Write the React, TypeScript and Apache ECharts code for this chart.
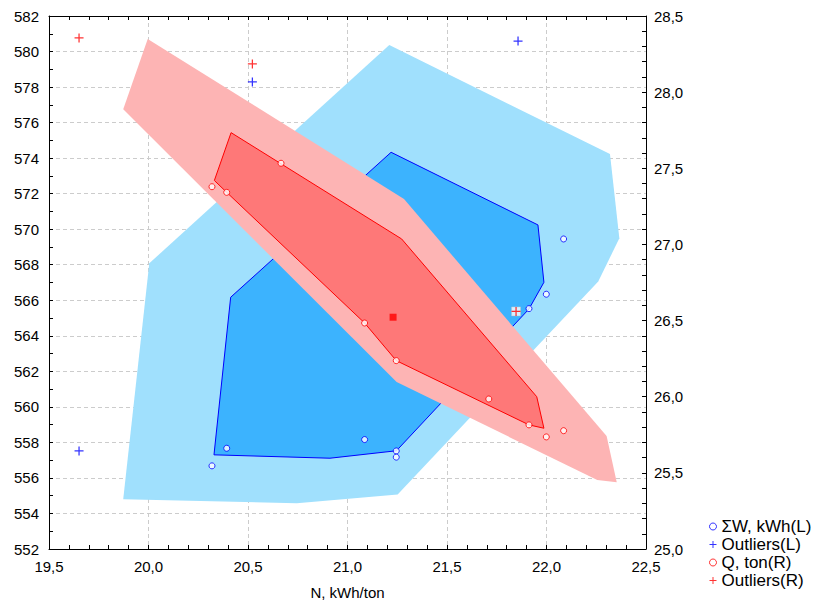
import React, { useEffect, useRef } from "react";
import * as echarts from "echarts";

// Axis ranges
const xMin = 19.5;
const xMax = 22.5;
const leftMin = 552;
const leftMax = 582;
const rightMin = 25.0;
const rightMax = 28.5;

// ΣW, kWh (left axis): points inside the fence
const wX = [20.393, 20.319, 21.086, 21.245, 21.245, 21.912, 21.999, 22.086];
const wY = [557.67, 556.68, 558.16, 557.52, 557.17, 565.53, 566.34, 569.45];
// ΣW outliers
const wOutX = [19.651, 20.522, 21.857];
const wOutY = [557.52, 578.29, 580.59];
// ΣW fence (outer) and bag (inner) hulls
const wFenceX = [21.21, 22.319, 22.366, 22.26, 21.252, 20.745, 19.873, 20.004];
const wFenceY = [580.37, 574.23, 569.49, 567.05, 555.07, 554.58, 554.8, 568.08];
const wBagX = [20.329, 20.413, 21.219, 21.957, 21.987, 21.912, 21.246, 20.912];
const wBagY = [557.3, 566.17, 574.33, 570.24, 567.01, 565.51, 557.53, 557.11];

// Q, ton (right axis): points inside the fence
const qX = [20.319, 20.393, 20.666, 21.086, 21.245, 21.71, 21.912, 21.999, 22.086];
const qY = [27.379, 27.342, 27.533, 26.484, 26.237, 25.985, 25.815, 25.736, 25.777];
// Q outliers
const qOutX = [19.651, 20.522, 21.847];
const qOutY = [28.356, 28.185, 26.56];
// Q depth median
const qMedX = [21.229];
const qMedY = [26.522];
// Q fence (outer) and bag (inner) hulls
const qFenceX = [19.996, 21.284, 22.302, 22.353, 22.255, 21.247, 19.873];
const qFenceY = [28.349, 27.298, 25.742, 25.438, 25.453, 26.097, 27.887];
const qBagX = [20.415, 20.331, 20.393, 21.086, 21.245, 21.912, 21.987, 21.951, 21.272];
const qBagY = [27.734, 27.42, 27.342, 26.484, 26.237, 25.815, 25.793, 26.0, 27.036];

const FONT = "Liberation Sans, Arial, sans-serif";
const PLUS = "path://M4.3,0H5.7V4.3H10V5.7H5.7V10H4.3V5.7H0V4.3H4.3Z";

const zip = (xs: number[], ys: number[]) => xs.map((x, i) => [x, ys[i]]);

function hull(
  xs: number[],
  ys: number[],
  yAxisIndex: number,
  fill: string,
  stroke: string | null,
  z: number
) {
  const pts = zip(xs, ys);
  return {
    type: "custom",
    xAxisIndex: 0,
    yAxisIndex,
    z,
    silent: true,
    clip: true,
    data: pts,
    encode: { x: 0, y: 1 },
    renderItem: (params: any, api: any) => {
      if (params.dataIndex !== 0) return null;
      return {
        type: "polygon",
        shape: { points: pts.map((p) => api.coord(p)) },
        style: {
          fill,
          stroke: stroke || "none",
          lineWidth: stroke ? 1 : 0,
        },
      };
    },
  };
}

export default function App() {
  const ref = useRef<HTMLDivElement>(null);

  useEffect(() => {
    document.body.style.margin = "0";
    const chart = echarts.init(ref.current!, null, { renderer: "svg" });

    const tick = { show: true, inside: true, length: 4, lineStyle: { color: "#000" } };
    const line = { show: true, lineStyle: { color: "#000", width: 1 } };
    const grid = {
      show: true,
      lineStyle: { color: "#cccccc", type: [4, 3], width: 1 },
    };
    const label = { color: "#000", fontSize: 15, fontFamily: FONT };
    const comma = (v: number) => v.toFixed(1).replace(".", ",");

    const option: any = {
      animation: false,
      backgroundColor: "#fff",
      grid: { left: 49, right: 170, top: 16, bottom: 56 },
      xAxis: [
        {
          type: "value",
          min: xMin,
          max: xMax,
          interval: 0.5,
          position: "bottom",
          axisLine: line,
          axisTick: tick,
          minorTick: { show: true, splitNumber: 5, length: 4, lineStyle: { color: "#000" } },
          splitLine: grid,
          axisLabel: { ...label, margin: 10, formatter: comma },
          name: "N, kWh/ton",
          nameLocation: "middle",
          nameGap: 36,
          nameTextStyle: { color: "#000", fontSize: 15, fontFamily: FONT },
        },
        {
          type: "value",
          min: xMin,
          max: xMax,
          interval: 0.5,
          position: "top",
          axisLine: line,
          axisTick: tick,
          minorTick: { show: true, splitNumber: 5, length: 4, lineStyle: { color: "#000" } },
          splitLine: { show: false },
          axisLabel: { show: false },
        },
      ],
      yAxis: [
        {
          type: "value",
          min: leftMin,
          max: leftMax,
          interval: 2,
          position: "left",
          axisLine: line,
          axisTick: tick,
          minorTick: { show: true, splitNumber: 2, length: 4, lineStyle: { color: "#000" } },
          splitLine: grid,
          axisLabel: { ...label, margin: 10 },
        },
        {
          type: "value",
          min: rightMin,
          max: rightMax,
          interval: 0.5,
          position: "right",
          axisLine: line,
          axisTick: tick,
          minorTick: { show: true, splitNumber: 5, length: 4, lineStyle: { color: "#000" } },
          splitLine: { show: false },
          axisLabel: { ...label, margin: 8, formatter: comma },
        },
      ],
      legend: {
        orient: "vertical",
        left: 704,
        top: 513,
        itemWidth: 7,
        itemHeight: 7,
        itemGap: 1,
        textStyle: { color: "#000", fontSize: 17, fontFamily: FONT },
        data: [
          { name: "ΣW, kWh(L)", itemStyle: { borderWidth: 1 } },
          { name: "Outliers(L)" },
          { name: "Q, ton(R)", itemStyle: { borderWidth: 1 } },
          { name: "Outliers(R)" },
        ],
      },
      series: [
        hull(wFenceX, wFenceY, 0, "#a0e0fd", null, 1),
        hull(wBagX, wBagY, 0, "#3cb3fe", "#0000ff", 2),
        hull(qFenceX, qFenceY, 1, "#fdb4b4", null, 3),
        hull(qBagX, qBagY, 1, "#fe7878", "#ff0000", 4),
        {
          name: "ΣW, kWh(L)",
          type: "scatter",
          yAxisIndex: 0,
          z: 6,
          symbol: "circle",
          symbolSize: 6,
          itemStyle: { color: "#fff", borderColor: "#0000ff", borderWidth: 1 },
          data: zip(wX, wY),
        },
        {
          name: "Outliers(L)",
          type: "scatter",
          yAxisIndex: 0,
          z: 6,
          symbol: PLUS,
          symbolSize: 9,
          itemStyle: { color: "#0000ff" },
          data: zip(wOutX, wOutY),
        },
        {
          type: "scatter",
          yAxisIndex: 1,
          z: 6,
          symbol: "rect",
          symbolSize: 9,
          itemStyle: { color: "#fff", borderColor: "#c0c0c0", borderWidth: 0.5 },
          data: zip(qOutX, qOutY).slice(2),
        },
        {
          name: "Q, ton(R)",
          type: "scatter",
          yAxisIndex: 1,
          z: 7,
          symbol: "circle",
          symbolSize: 6,
          itemStyle: { color: "#fff", borderColor: "#ff0000", borderWidth: 1 },
          data: zip(qX, qY),
        },
        {
          name: "Outliers(R)",
          type: "scatter",
          yAxisIndex: 1,
          z: 7,
          symbol: PLUS,
          symbolSize: 9,
          itemStyle: { color: "#ff0000" },
          data: zip(qOutX, qOutY),
        },
        {
          type: "scatter",
          yAxisIndex: 1,
          z: 7,
          symbol: "rect",
          symbolSize: 7,
          itemStyle: { color: "#ff0000" },
          data: zip(qMedX, qMedY),
        },
      ],
    };

    chart.setOption(option);
    return () => chart.dispose();
  }, []);

  return <div ref={ref} style={{ width: 816, height: 605 }} />;
}
